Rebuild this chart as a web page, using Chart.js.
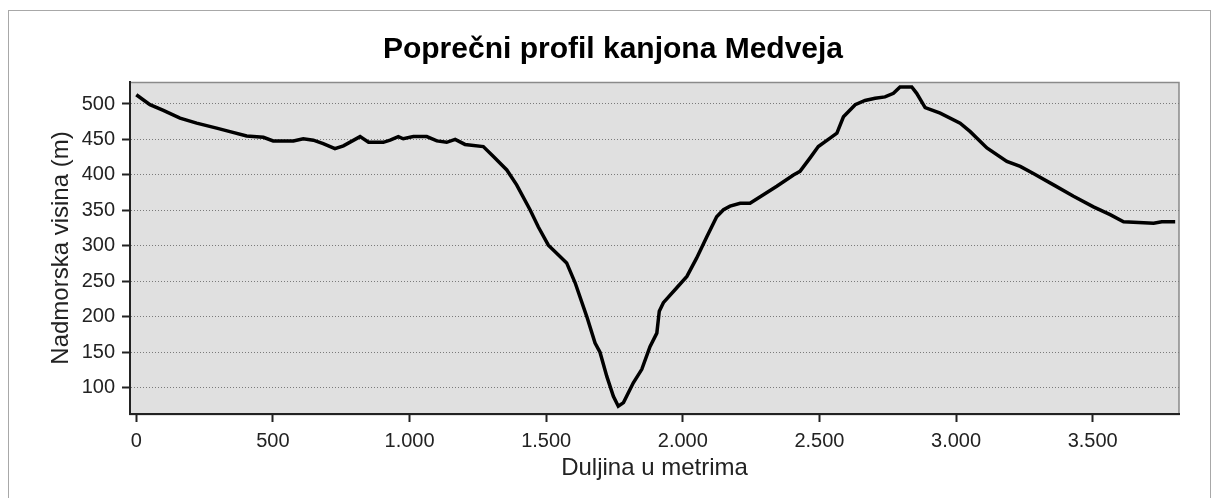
<!DOCTYPE html>
<html>
<head>
<meta charset="utf-8">
<script src="https://cdn.jsdelivr.net/npm/chart.js@4/dist/chart.umd.min.js"></script>
<style>
  body { margin: 0; background: #fff; }
  canvas { display: block; }
</style>
</head>
<body>
<canvas id="profil" width="1212" height="498"></canvas>
<script>
// udaljenost (m) i nadmorska visina (m), ocitano sa profila
const distances = [0, 50, 99, 160, 221, 294, 343, 404, 465, 501, 575, 611, 648, 684, 727, 758,
    819, 850, 904, 929, 959, 977, 1014, 1063, 1100, 1136, 1167, 1203, 1270, 1307, 1356, 1392,
    1441, 1471, 1508, 1545, 1575, 1606, 1649, 1679, 1697, 1722, 1746, 1764, 1783, 1819, 1850,
    1880, 1905, 1914, 1929, 1978, 2015, 2051, 2088, 2124, 2149, 2173, 2210, 2246, 2295, 2344,
    2405, 2429, 2466, 2496, 2539, 2564, 2588, 2631, 2667, 2704, 2740, 2771, 2795, 2838, 2856,
    2887, 2942, 3015, 3052, 3113, 3186, 3235, 3283, 3357, 3430, 3503, 3564, 3613, 3668, 3723,
    3753, 3802];
const elevations = [513, 499, 491, 480, 473, 466, 461, 455, 453, 448, 448, 451, 449, 444, 437, 441,
    454, 446, 446, 449, 454, 451, 454, 454, 448, 446, 450, 443, 440, 426, 407, 386,
    351, 327, 301, 287, 276, 248, 200, 163, 150, 116, 88, 74, 79, 107, 126,
    158, 177, 208, 220, 241, 257, 283, 313, 341, 351, 356, 360, 360, 372, 384,
    400, 405, 424, 440, 452, 459, 482, 499, 505, 508, 510, 515, 524, 524, 515,
    495, 487, 473, 461, 438, 419, 412, 402, 386, 370, 355, 344, 334, 333, 332,
    334, 334];

const xTickValues = [0, 500, 1000, 1500, 2000, 2500, 3000, 3500];
const xTickLabels = ['0', '500', '1.000', '1.500', '2.000', '2.500', '3.000', '3.500'];
const yTickValues = [100, 150, 200, 250, 300, 350, 400, 450, 500];

const chartTitle = 'Poprečni profil kanjona Medveja';

const points = distances.map((d, i) => ({ x: d, y: elevations[i] }));

// siva podloga grafa, okvir slike i naslov
const plotBackground = {
    id: 'plotBackground',
    beforeDraw(chart) {
        const { ctx, chartArea: a } = chart;
        ctx.save();
        ctx.fillStyle = '#fff';
        ctx.fillRect(0, 0, chart.width, chart.height);
        ctx.strokeStyle = '#a8a8a8';
        ctx.lineWidth = 1;
        ctx.strokeRect(8.5, 10.5, 1202, 600);
        ctx.fillStyle = '#e0e0e0';
        ctx.fillRect(a.left, a.top, a.right - a.left, a.bottom - a.top);
        ctx.strokeStyle = '#8a8a8a';
        ctx.lineWidth = 1.5;
        ctx.strokeRect(a.left, a.top + 0.5, a.right - a.left, a.bottom - a.top);

        ctx.fillStyle = '#000';
        ctx.font = 'bold 30px "Liberation Sans", Arial, sans-serif';
        ctx.textAlign = 'center';
        ctx.textBaseline = 'alphabetic';
        ctx.fillText(chartTitle, 613, 58);
        ctx.restore();
    }
};

const tickFont = { family: 'Liberation Sans, Arial, sans-serif', size: 20 };
const titleFont = { family: 'Liberation Sans, Arial, sans-serif', size: 24 };

new Chart(document.getElementById('profil').getContext('2d'), {
    type: 'line',
    data: {
        datasets: [{
            data: points,
            borderColor: '#000',
            borderWidth: 3.5,
            pointRadius: 0,
            tension: 0,
            fill: false
        }]
    },
    options: {
        responsive: false,
        animation: false,
        layout: { padding: { left: 0, top: 82, right: 33, bottom: 0 } },
        plugins: {
            legend: { display: false },
            tooltip: { enabled: false },
            title: { display: false }
        },
        scales: {
            x: {
                type: 'linear',
                min: -23,
                max: 3816,
                afterBuildTicks: axis => { axis.ticks = xTickValues.map(v => ({ value: v })); },
                afterFit: axis => { axis.height = 84; },
                ticks: {
                    color: '#222',
                    font: tickFont,
                    padding: 7,
                    maxRotation: 0,
                    callback: (value, index) => xTickLabels[index]
                },
                grid: {
                    drawOnChartArea: false,
                    drawTicks: true,
                    tickLength: 8,
                    tickColor: '#222',
                    tickWidth: 2
                },
                border: { color: '#222', width: 2 },
                title: {
                    display: true,
                    text: 'Duljina u metrima',
                    color: '#222',
                    font: titleFont,
                    padding: { top: 0, bottom: 15.6 }
                }
            },
            y: {
                min: 63,
                max: 531,
                afterBuildTicks: axis => { axis.ticks = yTickValues.map(v => ({ value: v })); },
                afterFit: axis => { axis.width = 130; },
                ticks: {
                    color: '#222',
                    font: tickFont,
                    padding: 7
                },
                grid: {
                    color: '#7a7a7a',
                    lineWidth: 1,
                    tickLength: 8,
                    tickColor: '#222',
                    tickWidth: 2,
                    tickBorderDash: []
                },
                border: { color: '#222', width: 2, dash: [1, 2] },
                title: {
                    display: true,
                    text: 'Nadmorska visina (m)',
                    color: '#222',
                    font: titleFont,
                    padding: { top: 47, bottom: 0 }
                }
            }
        }
    },
    plugins: [plotBackground]
});
</script>
</body>
</html>
